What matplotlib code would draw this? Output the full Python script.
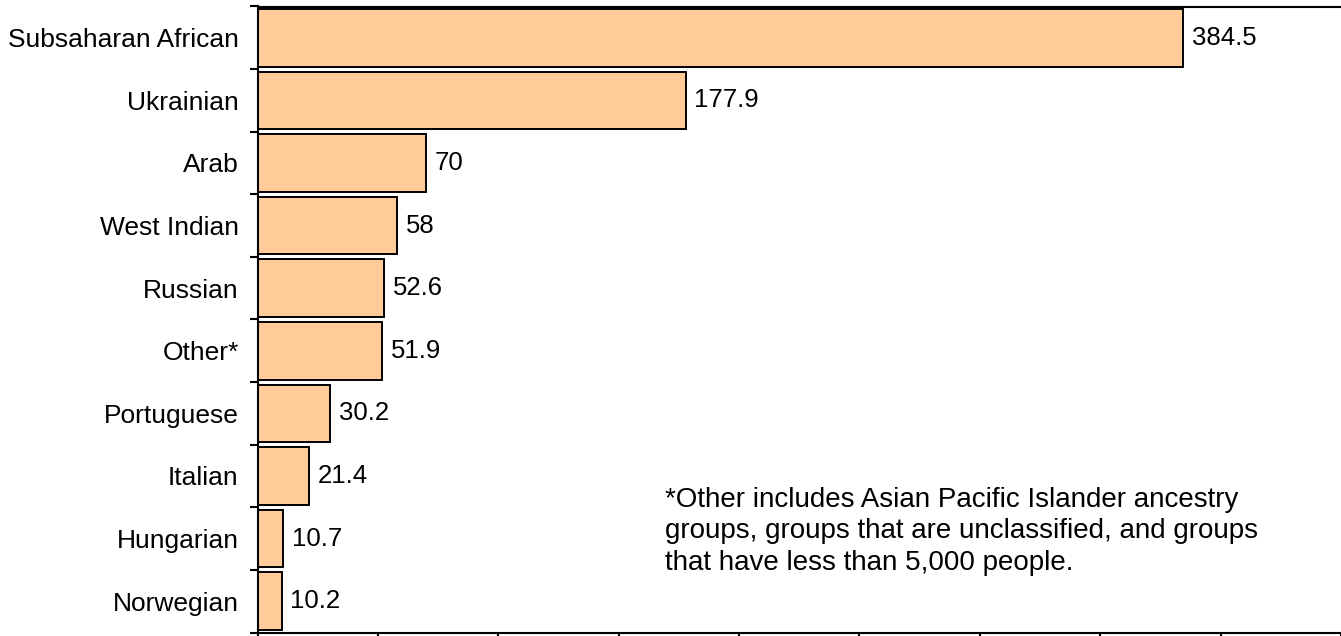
import matplotlib
matplotlib.use("Agg")
import matplotlib.pyplot as plt
import numpy as np

categories = ["Subsaharan African", "Ukrainian", "Arab", "West Indian", "Russian",
              "Other*", "Portuguese", "Italian", "Hungarian", "Norwegian"]
values = [384.5, 177.9, 70, 58, 52.6, 51.9, 30.2, 21.4, 10.7, 10.2]
value_labels = ["384.5", "177.9", "70", "58", "52.6", "51.9", "30.2", "21.4", "10.7", "10.2"]
x_ticks = [0, 50, 100, 150, 200, 250, 300, 350, 400, 450]
footnote_lines = ["*Other includes Asian Pacific Islander ancestry",
                  "groups, groups that are unclassified, and groups",
                  "that have less than 5,000 people."]

plt.rcParams['font.family'] = ['Liberation Sans', 'DejaVu Sans']

W, H = 1341, 636
fig = plt.figure(figsize=(W / 100, H / 100), dpi=100)
ax = fig.add_axes([257.5 / W, 3.5 / H, (W - 257.5) / W, (632.5 - 6.5) / H])

n = len(categories)
ypos = np.arange(n)
ax.barh(ypos, values, height=0.92, color="#FFCC99", edgecolor="black", linewidth=1.4)
ax.set_ylim(n - 0.5, -0.5)
ax.set_xlim(0, 444.3)

for y, v, lab in zip(ypos, values, value_labels):
    ax.annotate(lab, (v, y), xytext=(6, 0), textcoords="offset points",
                va="center", ha="left", fontsize=18.5)

ax.set_yticks(np.arange(-0.5, n, 1.0))
ax.set_yticklabels([])
ax.set_yticks(ypos, minor=True)
ax.set_yticklabels(categories, minor=True, fontsize=19)
ax.tick_params(axis="y", which="minor", length=0, pad=13.5)
ax.tick_params(axis="y", which="major", length=6, width=1.5, direction="out")

ax.set_xticks(x_ticks)
ax.set_xticklabels([])
ax.tick_params(axis="x", which="major", length=6, width=1.5, direction="out")

ax.spines["right"].set_visible(False)
for s in ["left", "bottom", "top"]:
    ax.spines[s].set_linewidth(1.5)

baselines = [507, 538.5, 570]
for yb, line in zip(baselines, footnote_lines):
    fig.text(665 / W, 1 - yb / H, line, fontsize=20, va="baseline", ha="left")

fig.savefig("out.png", dpi=100)
